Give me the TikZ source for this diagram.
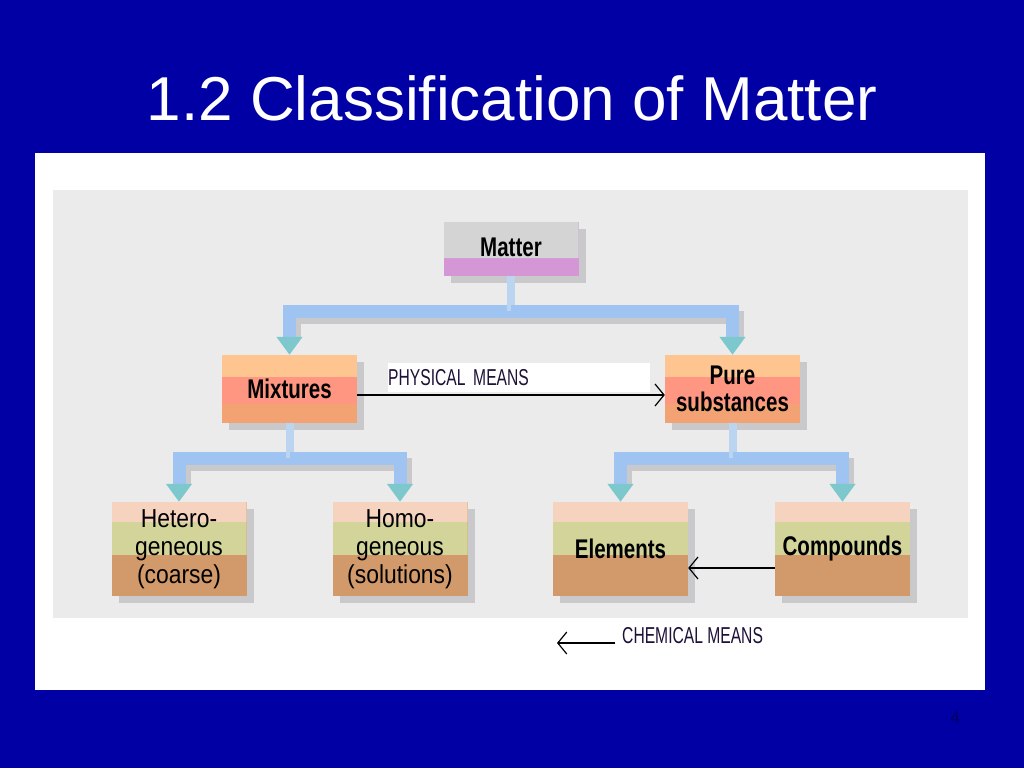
\documentclass[tikz,border=0pt]{standalone}
\usepackage{fontspec}
\setmainfont{Liberation Sans}
\newfontfamily\boxfont[FakeStretch=0.76]{Liberation Sans}
\newfontfamily\thinfont[FakeStretch=0.88]{Liberation Sans}
\newfontfamily\meansfont[FakeStretch=0.68]{Liberation Sans}
\usetikzlibrary{calc,shadows,arrows.meta}

\definecolor{slideblue}{HTML}{0000A5}
\definecolor{panelgray}{HTML}{EBEBEB}
\definecolor{boxshade}{HTML}{C9C9CB}
\definecolor{mattergray}{HTML}{D4D4D4}
\definecolor{matterpink}{HTML}{D596D6}
\definecolor{peach}{HTML}{FFC590}
\definecolor{salmon}{HTML}{FF9682}
\definecolor{tangerine}{HTML}{F3A274}
\definecolor{blush}{HTML}{F5D3BF}
\definecolor{sage}{HTML}{D2D49A}
\definecolor{clay}{HTML}{D29A6A}
\definecolor{barblue}{HTML}{9FC4F2}
\definecolor{stubblue}{HTML}{BBD5F0}
\definecolor{tipteal}{HTML}{7CC8CC}
\definecolor{meansink}{HTML}{1E1038}
\definecolor{pagenum}{HTML}{000060}

\tikzset{
  bands/.style n args={5}{fill=#3, path picture={
      \fill[#1] (path picture bounding box.north west) rectangle
        ($(path picture bounding box.north east)!#4!(path picture bounding box.south east)$);
      \fill[#2] ($(path picture bounding box.north west)!#4!(path picture bounding box.south west)$) rectangle
        ($(path picture bounding box.north east)!#5!(path picture bounding box.south east)$);
  }},
}

\begin{document}
\begin{tikzpicture}[x=1pt, y=-1pt,
    box/.style={minimum width=135pt, inner sep=0pt, align=center,
      drop shadow={shadow xshift=7pt, shadow yshift=-7pt, fill=boxshade, opacity=1},
      font={\boxfont\fontsize{27}{27}\selectfont\bfseries}},
    topbox/.style={box, minimum height=54pt, bands={mattergray}{mattergray}{matterpink}{0.67}{0.67}},
    midbox/.style={box, minimum height=68pt, bands={peach}{salmon}{tangerine}{0.32}{0.72}},
    lowbox/.style={box, minimum height=94pt, bands={blush}{sage}{clay}{0.21}{0.56}},
    softtext/.style={font={\thinfont\fontsize{26}{28}\selectfont}},
    bar/.style={line width=13pt, draw=barblue, -{Triangle[length=18pt, width=25pt, color=tipteal]}},
    barshade/.style={line width=13pt, draw=boxshade, shorten >=18pt},
    stub/.style={line width=8pt, draw=stubblue},
    means/.style={line width=1.2pt, draw=black, -{Straight Barb[length=9pt, width=22pt]}},
    meanslabel/.style={font={\meansfont\fontsize{23}{23}\selectfont}, text=meansink, inner sep=0pt}]

  \useasboundingbox (0,0) rectangle (1024,768);
  \fill[slideblue] (0,0) rectangle (1024,768);
  \fill[white] (35,153) rectangle (985,690);
  \fill[panelgray] (53,190) rectangle (968,618);

  \node[font=\fontsize{62}{62}\selectfont, text=white] (title) at (512,98) {1.2 Classification of Matter};

  % boxes
  \node[topbox] (matter) at (511,249) {\raisebox{4pt}{Matter}};
  \node[midbox] (mix) at (289.5,389) {Mixtures};
  \node[midbox] (pure) at (732.5,389) {Pure\\substances};
  \node[lowbox, softtext] (hetero) at (179,549) {\raisebox{-3pt}{\parbox{120pt}{\centering Hetero-\\geneous\\(coarse)}}};
  \node[lowbox, softtext] (homo) at (400,549) {\raisebox{-3pt}{\parbox{120pt}{\centering Homo-\\geneous\\(solutions)}}};
  \node[lowbox] (elem) at (620.5,549) {Elements};
  \node[lowbox] (comp) at (842.5,549) {Compounds};

  % branch bars
  \foreach \a/\b in {matter/mix, matter/pure, mix/hetero, mix/homo, pure/elem, pure/comp}
    \draw[barshade] ($(\a.south)+(5,41)$) -| ($(\b.north)+(5,0)$);
  \foreach \a/\b in {matter/mix, matter/pure, mix/hetero, mix/homo, pure/elem, pure/comp}{
    \draw[stub] (\a.south) -- ++(0,35);
    \draw[bar] ($(\a.south)+(0,35)$) -| (\b.north);
  }

  % separation arrows
  \node[meanslabel, fill=white, anchor=north west, minimum height=29pt,
    text width=262pt, align=left] (phys) at (388,363) {PHYSICAL MEANS};
  \draw[means] ([yshift=-6pt]mix.east) -- ([yshift=-6pt]pure.west);
  \draw[means] ([yshift=-19pt]comp.west) -- ([yshift=-19pt]elem.east);

  \node[meanslabel, anchor=west] (chem) at (622,636) {CHEMICAL MEANS};
  \coordinate (chemtip) at (557,643);
  \draw[means] ([shift={(-7pt,-7pt)}]chem.west) -- (chemtip);

  \node[font=\fontsize{17}{17}\selectfont, text=pagenum] (page) at (955,718) {4};

\end{tikzpicture}
\end{document}
